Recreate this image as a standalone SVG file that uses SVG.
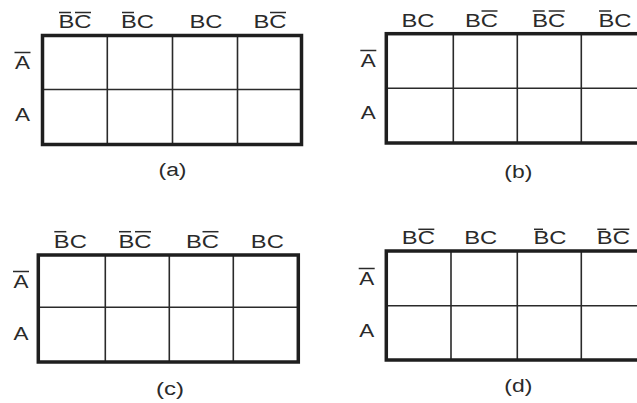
<svg xmlns="http://www.w3.org/2000/svg" width="637" height="403" viewBox="0 0 637 403">
<style>
.bg{fill:#fff}
.frame{fill:none;stroke:#1e1e1e;stroke-width:3.5}
.grid{stroke:#2a2a2a;stroke-width:1.6;fill:none}
.t{font-family:"Liberation Sans",Arial,sans-serif;font-size:18px;fill:#2a2a2a;text-anchor:middle}
.bar{stroke:#2a2a2a;stroke-width:1.5}
</style>
<rect class="bg" x="0" y="0" width="637" height="403"/>

<g id="map-a">
  <path class="grid" d="M107.3 35.5V144.5M172.5 35.5V144.5M237.5 35.5V144.5M42.5 89.5H301.5"/>
  <rect class="frame" x="42.5" y="35.5" width="259" height="109"/>
  <text class="t" x="75" y="28" textLength="33" lengthAdjust="spacingAndGlyphs">BC</text>
  <line class="bar" x1="59" y1="12.5" x2="71" y2="12.5"/><line class="bar" x1="75" y1="12.5" x2="91" y2="12.5"/>
  <text class="t" x="137.5" y="28" textLength="33" lengthAdjust="spacingAndGlyphs">BC</text>
  <line class="bar" x1="122" y1="12.5" x2="134" y2="12.5"/>
  <text class="t" x="206" y="28" textLength="33" lengthAdjust="spacingAndGlyphs">BC</text>
  <text class="t" x="270" y="28" textLength="33" lengthAdjust="spacingAndGlyphs">BC</text>
  <line class="bar" x1="270" y1="12.5" x2="286" y2="12.5"/>
  <text class="t" x="22.5" y="69" textLength="15" lengthAdjust="spacingAndGlyphs">A</text>
  <line class="bar" x1="14.5" y1="52.5" x2="30.5" y2="52.5"/>
  <text class="t" x="22.5" y="121" textLength="15" lengthAdjust="spacingAndGlyphs">A</text>
  <text class="t" x="172.5" y="176" textLength="28" lengthAdjust="spacingAndGlyphs">(a)</text>
</g>

<g id="map-b">
  <path class="grid" d="M453.3 33.7V143M517.3 33.7V143M581.3 33.7V143M386.3 88.3H640"/>
  <rect class="frame" x="386.3" y="33.7" width="262" height="109.3"/>
  <text class="t" x="418" y="27" textLength="33" lengthAdjust="spacingAndGlyphs">BC</text>
  <text class="t" x="481.5" y="27" textLength="33" lengthAdjust="spacingAndGlyphs">BC</text>
  <line class="bar" x1="481.5" y1="11" x2="497.5" y2="11"/>
  <text class="t" x="548.7" y="27" textLength="33" lengthAdjust="spacingAndGlyphs">BC</text>
  <line class="bar" x1="532.7" y1="11" x2="544.7" y2="11"/><line class="bar" x1="548.7" y1="11" x2="564.7" y2="11"/>
  <text class="t" x="615" y="27" textLength="33" lengthAdjust="spacingAndGlyphs">BC</text>
  <line class="bar" x1="599" y1="11" x2="611" y2="11"/>
  <text class="t" x="368.3" y="67" textLength="15" lengthAdjust="spacingAndGlyphs">A</text>
  <line class="bar" x1="360.3" y1="50.5" x2="376.3" y2="50.5"/>
  <text class="t" x="368.3" y="119" textLength="15" lengthAdjust="spacingAndGlyphs">A</text>
  <text class="t" x="518.3" y="178" textLength="28" lengthAdjust="spacingAndGlyphs">(b)</text>
</g>

<g id="map-c">
  <path class="grid" d="M105.3 255V362M169.3 255V362M233.3 255V362M38.3 307.3H298.3"/>
  <rect class="frame" x="38.3" y="255" width="260" height="107"/>
  <text class="t" x="70.3" y="247.7" textLength="33" lengthAdjust="spacingAndGlyphs">BC</text>
  <line class="bar" x1="54.3" y1="231.7" x2="66.3" y2="231.7"/>
  <text class="t" x="135" y="247.7" textLength="33" lengthAdjust="spacingAndGlyphs">BC</text>
  <line class="bar" x1="119" y1="231.7" x2="131" y2="231.7"/><line class="bar" x1="135" y1="231.7" x2="151" y2="231.7"/>
  <text class="t" x="202.5" y="247.7" textLength="33" lengthAdjust="spacingAndGlyphs">BC</text>
  <line class="bar" x1="202.5" y1="231.7" x2="218.5" y2="231.7"/>
  <text class="t" x="267.3" y="247.7" textLength="33" lengthAdjust="spacingAndGlyphs">BC</text>
  <text class="t" x="21" y="288.3" textLength="15" lengthAdjust="spacingAndGlyphs">A</text>
  <line class="bar" x1="13" y1="271.5" x2="29" y2="271.5"/>
  <text class="t" x="21" y="340" textLength="15" lengthAdjust="spacingAndGlyphs">A</text>
  <text class="t" x="170" y="395" textLength="28" lengthAdjust="spacingAndGlyphs">(c)</text>
</g>

<g id="map-d">
  <path class="grid" d="M451 251V360M517.3 251V360M581.3 251V360M386.3 305.7H640"/>
  <rect class="frame" x="386.3" y="251" width="262" height="109"/>
  <text class="t" x="418.3" y="244.3" textLength="33" lengthAdjust="spacingAndGlyphs">BC</text>
  <line class="bar" x1="418.3" y1="229.3" x2="434.3" y2="229.3"/>
  <text class="t" x="480.7" y="244.3" textLength="33" lengthAdjust="spacingAndGlyphs">BC</text>
  <text class="t" x="550" y="244.3" textLength="33" lengthAdjust="spacingAndGlyphs">BC</text>
  <line class="bar" x1="534" y1="229.3" x2="543" y2="229.3"/>
  <text class="t" x="613.3" y="244.3" textLength="33" lengthAdjust="spacingAndGlyphs">BC</text>
  <line class="bar" x1="597.3" y1="229.3" x2="606.3" y2="229.3"/><line class="bar" x1="613.3" y1="229.3" x2="629.3" y2="229.3"/>
  <text class="t" x="366.7" y="285" textLength="15" lengthAdjust="spacingAndGlyphs">A</text>
  <line class="bar" x1="358.7" y1="268.5" x2="374.7" y2="268.5"/>
  <text class="t" x="366.7" y="336.7" textLength="15" lengthAdjust="spacingAndGlyphs">A</text>
  <text class="t" x="518.3" y="391.7" textLength="28" lengthAdjust="spacingAndGlyphs">(d)</text>
</g>
</svg>
